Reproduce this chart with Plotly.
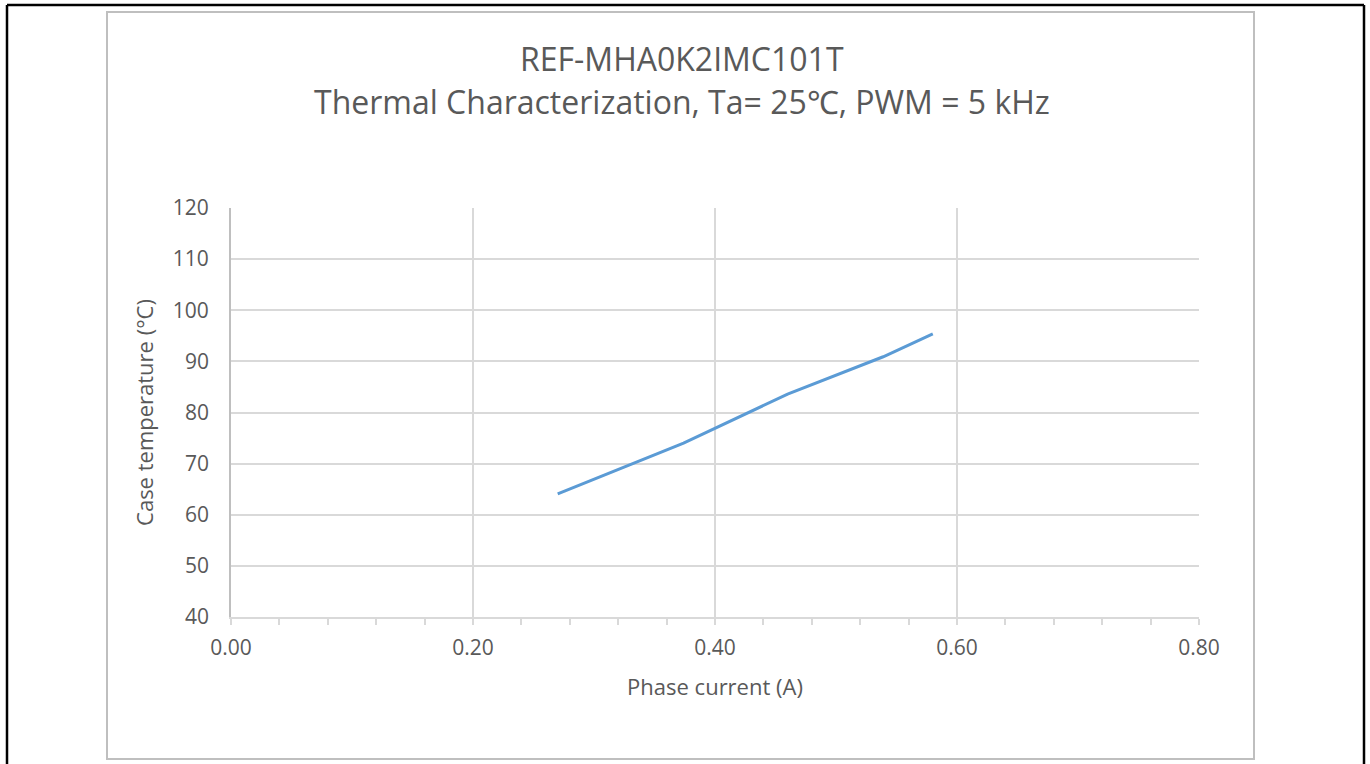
import plotly.graph_objects as go

# Data
phase_current = [0.270, 0.374, 0.460, 0.539, 0.580]
case_temp = [64.1, 74.0, 83.6, 90.9, 95.4]

x_ticks = [0.0, 0.2, 0.4, 0.6, 0.8]
x_tick_labels = ["0.00", "0.20", "0.40", "0.60", "0.80"]
y_ticks = [40, 50, 60, 70, 80, 90, 100, 110, 120]

title_line1 = "REF-MHA0K2IMC101T"
title_line2 = "Thermal Characterization, Ta= 25℃, PWM = 5 kHz"
x_title = "Phase current (A)"
y_title = "Case temperature (°C)"

W, H = 1370, 764
FONT = "Open Sans"
TXT = "#595959"
GRID = "#d9d9d9"


def px(x):
    return x / W


def py(y):
    return 1 - y / H


fig = go.Figure()
fig.add_trace(go.Scatter(
    x=phase_current, y=case_temp, mode="lines",
    line=dict(color="#5B9BD5", width=3), showlegend=False,
))

fig.update_layout(
    width=W, height=H,
    margin=dict(l=0, r=0, t=0, b=0, autoexpand=False),
    paper_bgcolor="white", plot_bgcolor="white",
    font=dict(family=FONT, color=TXT),
    xaxis=dict(
        domain=[px(231), px(1199)], automargin=False,
        range=[0, 0.8], tickvals=x_ticks, ticktext=x_tick_labels,
        showgrid=True, gridcolor=GRID, gridwidth=1.8,
        showline=True, linecolor=GRID, linewidth=1.8,
        ticks="outside", ticklen=6, tickcolor=GRID, tickwidth=1.6,
        ticklabelstandoff=5,
        minor=dict(dtick=0.04, ticks="outside", ticklen=6, tickcolor=GRID, tickwidth=1.6, showgrid=False),
        tickfont=dict(size=21, color=TXT),
        zeroline=False,
        title=dict(text=x_title, font=dict(size=22, color=TXT), standoff=20),
    ),
    yaxis=dict(
        domain=[py(617), py(208)], automargin=False,
        range=[40, 120], tickvals=y_ticks,
        showgrid=True, gridcolor=GRID, gridwidth=1.8,
        showline=True, linecolor="#bfbfbf", linewidth=1.8,
        ticks="", ticklabelstandoff=16,
        tickfont=dict(size=21, color=TXT),
        zeroline=False,
        title=dict(text=y_title, font=dict(size=22, color=TXT), standoff=13),
    ),
    annotations=[
        dict(text=title_line1, x=px(682), y=py(58), xref="paper", yref="paper",
             showarrow=False, xanchor="center", yanchor="middle",
             font=dict(size=32, color=TXT, family=FONT)),
        dict(text=title_line2, x=px(682), y=py(102), xref="paper", yref="paper",
             showarrow=False, xanchor="center", yanchor="middle",
             font=dict(size=32, color=TXT, family=FONT)),
    ],
    shapes=[
        # chart area border
        dict(type="rect", xref="paper", yref="paper",
             x0=px(107), x1=px(1254), y0=py(759), y1=py(12),
             line=dict(color="#bfbfbf", width=2)),
        # outer black frame
        dict(type="line", xref="paper", yref="paper", x0=px(7), x1=px(7), y0=0, y1=py(5),
             line=dict(color="black", width=2.5)),
        dict(type="line", xref="paper", yref="paper", x0=px(7), x1=px(1364), y0=py(5), y1=py(5),
             line=dict(color="black", width=2.5)),
        dict(type="line", xref="paper", yref="paper", x0=px(1364), x1=px(1364), y0=0, y1=py(5),
             line=dict(color="black", width=2.5)),
    ],
)

fig.write_html(
    "out.html",
    config={"displayModeBar": False},
    post_script="document.body.style.margin='0';document.body.style.overflow='hidden';",
)
